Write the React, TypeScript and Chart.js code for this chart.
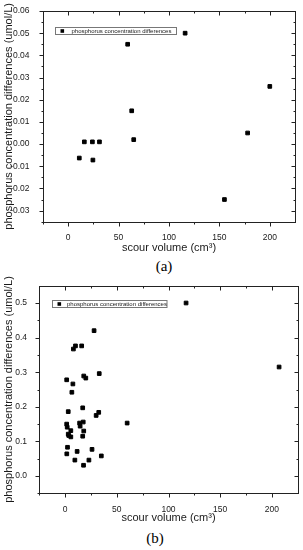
import React, { useEffect, useRef } from 'react';
import { Chart, registerables } from 'chart.js';

Chart.register(...registerables);

const seriesLabel = 'phosphorus concentration differences';
const xTitle = 'scour volume (cm³)';
const yTitle = 'phosphorus concentration differences (umol/L)';

// Panel (a)
const scourA = [11, 16, 24, 24.5, 31, 59, 63, 65, 116, 155, 178, 200];
const diffA = [-0.0063, 0.001, 0.001, -0.0072, 0.001, 0.045, 0.015, 0.002, 0.05, -0.025, 0.005, 0.026];

// Panel (b)
const scourB = [
  117, 207, 28, 16, 10, 8, 1.5, 7.5, 6.5, 18, 20, 33, 17, 3, 30, 32.5, 60, 1.5, 2, 5.5,
  3, 14, 17.5, 14.5, 18, 17, 3.5, 5.5, 2.3, 1.6, 11.6, 26, 35, 9.4, 23, 17.8,
];
const diffB = [
  0.5, 0.315, 0.42, 0.376, 0.376, 0.367, 0.278, 0.266, 0.242, 0.289, 0.283, 0.296, 0.197, 0.186, 0.175,
  0.184, 0.153, 0.15, 0.141, 0.131, 0.121, 0.153, 0.156, 0.144, 0.13, 0.115, 0.117, 0.113, 0.083,
  0.064, 0.071, 0.077, 0.058, 0.046, 0.046, 0.031,
];

const xTicks = [0, 50, 100, 150, 200];
const xMinorTicks = [-25, 25, 75, 125, 175];
const yTicksA = [-0.03, -0.02, -0.01, 0, 0.01, 0.02, 0.03, 0.04, 0.05, 0.06];
const yMinorTicksA = [-0.035, -0.025, -0.015, -0.005, 0.005, 0.015, 0.025, 0.035, 0.045, 0.055];
const yTicksB = [0, 0.1, 0.2, 0.3, 0.4, 0.5];
const yMinorTicksB = [-0.05, 0.05, 0.15, 0.25, 0.35, 0.45];

const FONT = "'Liberation Sans', Arial, sans-serif";
const INK = '#1a1a1a';

const frameTicks = {
  id: 'frameTicks',
  afterDraw(chart: any, _args: any, opts: any) {
    const { ctx, chartArea, scales } = chart;
    const L = Math.round(chartArea.left) + 0.5;
    const R = Math.round(chartArea.right) + 0.5;
    const T = Math.round(chartArea.top) + 0.5;
    const B = Math.round(chartArea.bottom) + 0.5;
    ctx.save();
    ctx.strokeStyle = '#222';
    ctx.lineWidth = 1;
    ctx.strokeRect(L, T, R - L, B - T);
    ctx.beginPath();
    const xt = (vals: number[], len: number) => {
      vals.forEach((v) => {
        const px = Math.round(scales.x.getPixelForValue(v)) + 0.5;
        ctx.moveTo(px, B);
        ctx.lineTo(px, B + len);
        ctx.moveTo(px, T);
        ctx.lineTo(px, T + len);
      });
    };
    const yt = (vals: number[], len: number) => {
      vals.forEach((v) => {
        const py = Math.round(scales.y.getPixelForValue(v)) + 0.5;
        ctx.moveTo(L, py);
        ctx.lineTo(L - len, py);
        ctx.moveTo(R, py);
        ctx.lineTo(R - len, py);
      });
    };
    xt(opts.xMajor, 4);
    xt(opts.xMinor, 2);
    yt(opts.yMajor, 4);
    yt(opts.yMinor, 2);
    ctx.stroke();
    ctx.restore();
  },
};

const boxLegend = {
  id: 'boxLegend',
  afterDraw(chart: any, _args: any, opts: any) {
    const { ctx, chartArea } = chart;
    const x0 = Math.round(chartArea.left + opts.dx) + 0.5;
    const y0 = Math.round(chartArea.top + opts.dy) + 0.5;
    ctx.save();
    ctx.strokeStyle = '#777';
    ctx.lineWidth = 1;
    ctx.fillStyle = '#fff';
    ctx.fillRect(x0, y0, opts.w, opts.h);
    ctx.strokeRect(x0, y0, opts.w, opts.h);
    ctx.fillStyle = '#000';
    const cy = y0 + opts.h / 2;
    ctx.fillRect(x0 + 5, cy - 1.8, 3.6, 3.6);
    ctx.font = `6px ${FONT}`;
    ctx.textBaseline = 'middle';
    ctx.fillStyle = INK;
    ctx.fillText(chart.data.datasets[0].label, x0 + opts.textDx, cy + 0.3);
    ctx.restore();
  },
};

type PanelProps = {
  xs: number[];
  ys: number[];
  yMin: number;
  yMax: number;
  yMajor: number[];
  yMinor: number[];
  decimals: number;
  width: number;
  height: number;
  padTop: number;
  padRight: number;
  yAxisW: number;
  xAxisH: number;
  yLabelPad: number;
  legend: { dx: number; dy: number; w: number; h: number; textDx: number };
};

function Panel(p: PanelProps) {
  const ref = useRef<HTMLCanvasElement | null>(null);
  useEffect(() => {
    if (!ref.current) return;
    const chart = new Chart(ref.current, {
      type: 'scatter',
      data: {
        datasets: [
          {
            label: seriesLabel,
            data: p.xs.map((x, i) => ({ x, y: p.ys[i] })),
            pointStyle: 'rect',
            pointRadius: 2.6,
            borderWidth: 1,
            borderColor: '#000',
            backgroundColor: '#000',
          },
        ],
      },
      options: {
        responsive: false,
        animation: false,
        layout: { padding: { top: p.padTop, right: p.padRight, left: 0, bottom: 0 } },
        plugins: {
          legend: { display: false },
          tooltip: { enabled: false },
          frameTicks: { xMajor: xTicks, xMinor: xMinorTicks, yMajor: p.yMajor, yMinor: p.yMinor },
          boxLegend: p.legend,
        } as any,
        scales: {
          x: {
            type: 'linear',
            min: -25,
            max: 225,
            grid: { display: false },
            border: { display: false },
            afterBuildTicks: (s: any) => {
              s.ticks = xTicks.map((v) => ({ value: v }));
            },
            afterFit: (s: any) => {
              s.height = p.xAxisH;
            },
            ticks: {
              font: { family: FONT, size: 8.5 },
              color: INK,
              padding: 3,
              maxRotation: 0,
              callback: (v: any) => String(v),
            },
            title: {
              display: true,
              text: xTitle,
              font: { family: FONT, size: 11 },
              color: INK,
              padding: { top: 0, bottom: 2 },
            },
          },
          y: {
            type: 'linear',
            min: p.yMin,
            max: p.yMax,
            grid: { display: false },
            border: { display: false },
            afterBuildTicks: (s: any) => {
              s.ticks = p.yMajor.map((v) => ({ value: v }));
            },
            afterFit: (s: any) => {
              s.width = p.yAxisW;
            },
            ticks: {
              font: { family: FONT, size: 8.5 },
              color: INK,
              padding: p.yLabelPad,
              callback: (v: any) => Number(v).toFixed(p.decimals),
            },
            title: {
              display: true,
              text: yTitle,
              font: { family: FONT, size: 11 },
              color: INK,
              padding: { top: 2, bottom: 0 },
            },
          },
        },
      },
      plugins: [frameTicks, boxLegend],
    });
    return () => chart.destroy();
  }, []);
  return (
    <canvas
      ref={ref}
      width={p.width}
      height={p.height}
      style={{ display: 'block', width: p.width, height: p.height }}
    />
  );
}

const capStyle: React.CSSProperties = {
  position: 'absolute',
  transform: 'translate(-50%, -50%)',
  fontFamily: "'Liberation Serif', 'Times New Roman', serif",
  fontSize: 15,
  lineHeight: 1,
  color: '#000',
  whiteSpace: 'nowrap',
};

export default function App() {
  return (
    <div
      style={{
        position: 'absolute',
        left: 0,
        top: 0,
        width: 303,
        height: 550,
        background: '#fff',
        overflow: 'hidden',
      }}
    >
      <div style={{ position: 'absolute', left: 0, top: 0 }}>
        <Panel
          xs={scourA}
          ys={diffA}
          yMin={-0.035}
          yMax={0.06}
          yMajor={yTicksA}
          yMinor={yMinorTicksA}
          decimals={2}
          width={303}
          height={257}
          padTop={11}
          padRight={8}
          yAxisW={43}
          xAxisH={35.3}
          yLabelPad={5.5}
          legend={{ dx: 12, dy: 16, w: 121, h: 7, textDx: 16 }}
        />
      </div>
      <div style={{ ...capStyle, left: 164, top: 266 }}>(a)</div>
      <div style={{ position: 'absolute', left: 0, top: 272 }}>
        <Panel
          xs={scourB}
          ys={diffB}
          yMin={-0.05}
          yMax={0.55}
          yMajor={yTicksB}
          yMinor={yMinorTicksB}
          decimals={1}
          width={303}
          height={255}
          padTop={13.7}
          padRight={5.3}
          yAxisW={39.3}
          xAxisH={33.7}
          yLabelPad={4.3}
          legend={{ dx: 12.4, dy: 14.3, w: 114.5, h: 7, textDx: 14.5 }}
        />
      </div>
      <div style={{ ...capStyle, left: 155, top: 538 }}>(b)</div>
    </div>
  );
}
